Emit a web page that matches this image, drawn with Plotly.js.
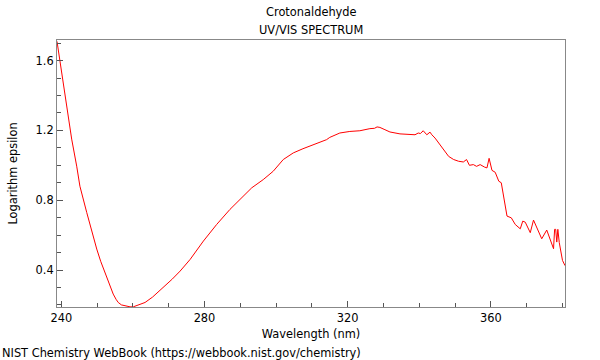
<!DOCTYPE html>
<html>
<head>
<meta charset="utf-8">
<script src="https://cdn.plot.ly/plotly-3.0.1.min.js"></script>
<style>html,body{margin:0;padding:0;background:#fff;}#chart{width:600px;height:360px;}</style>
</head>
<body>
<div id="chart"></div>
<script>
const wavelength = [238.8,240.1,241.5,242.9,244.3,245.2,247.1,248.5,249.9,251.0,252.2,253.4,254.5,255.3,255.9,256.8,257.8,259.2,260.1,261.5,263.4,265.5,268.5,271.0,273.2,276.0,279.7,283.4,287.1,289.9,293.2,296.4,299.2,302.0,304.8,307.5,310.4,314.1,315.0,317.8,320.6,323.4,326.2,327.5,328.2,329.0,330.4,331.8,334.6,336.5,338.8,339.7,340.3,341.1,341.6,342.1,343.0,343.5,344.4,345.8,346.8,348.2,349.6,351.0,352.3,353.2,354.0,355.1,356.0,357.0,358.2,358.9,359.5,360.3,361.2,362.2,362.9,363.6,364.5,365.7,366.8,368.2,368.9,369.6,371.0,371.9,372.8,374.2,375.6,376.5,377.5,377.8,378.1,378.4,378.7,379.1,380.0,380.7];
const logEpsilon = [1.71,1.53,1.34,1.15,0.995,0.88,0.73,0.62,0.52,0.45,0.385,0.32,0.262,0.232,0.214,0.2,0.194,0.189,0.189,0.198,0.214,0.245,0.299,0.348,0.394,0.461,0.566,0.661,0.747,0.804,0.871,0.918,0.966,1.033,1.071,1.095,1.118,1.147,1.16,1.185,1.194,1.198,1.21,1.212,1.22,1.217,1.204,1.191,1.18,1.177,1.175,1.185,1.182,1.198,1.185,1.175,1.19,1.175,1.156,1.118,1.09,1.051,1.033,1.023,1.019,1.033,1.0,1.004,0.994,1.004,0.99,0.985,1.04,0.971,0.96,0.909,0.9,0.804,0.709,0.699,0.661,0.636,0.68,0.674,0.614,0.686,0.648,0.579,0.629,0.575,0.522,0.633,0.633,0.56,0.633,0.557,0.455,0.425];
const titleLines = ["Crotonaldehyde", "UV/VIS SPECTRUM"];
const xTickVals = [240, 280, 320, 360];
const yTickVals = [0.4, 0.8, 1.2, 1.6];
const xTitle = "Wavelength (nm)";
const yTitle = "Logarithm epsilon";
const footnote = "NIST Chemistry WebBook (https://webbook.nist.gov/chemistry)";

const font = {family: "DejaVu Sans, sans-serif", size: 11.4, color: "#000"};

const trace = {
  x: wavelength, y: logEpsilon, type: "scatter", mode: "lines",
  line: {color: "#ff0000", width: 1}, hoverinfo: "skip"
};

const axisCommon = {
  showgrid: false, zeroline: false, showline: true, mirror: true,
  linecolor: "#888", linewidth: 1, ticks: "inside", tickcolor: "#555",
  ticklen: 6, tickwidth: 1, tickfont: font
};

const layout = {
  width: 600, height: 360,
  margin: {l: 57, r: 35, t: 40, b: 53, pad: 0},
  paper_bgcolor: "#fff", plot_bgcolor: "#fff",
  showlegend: false,
  font: font,
  xaxis: Object.assign({}, axisCommon, {
    range: [238.8, 380.7], tickvals: xTickVals, ticktext: xTickVals.map(String),
    minor: {dtick: 10, tick0: 240, ticks: "inside", ticklen: 4, tickcolor: "#555", tickwidth: 1},
    title: {text: xTitle, font: font, standoff: 6}
  }),
  yaxis: Object.assign({}, axisCommon, {
    range: [0.188, 1.718], tickvals: yTickVals, ticktext: yTickVals.map(v => v.toFixed(1)),
    minor: {dtick: 0.1, tick0: 0, ticks: "inside", ticklen: 4, tickcolor: "#555", tickwidth: 1},
    title: {text: yTitle, font: font, standoff: 15}
  }),
  annotations: [
    {text: titleLines[0], xref: "paper", yref: "paper", x: 0.5, y: 1, yshift: 28, xanchor: "center", yanchor: "middle", showarrow: false, font: font},
    {text: titleLines[1], xref: "paper", yref: "paper", x: 0.5, y: 1, yshift: 10, xanchor: "center", yanchor: "middle", showarrow: false, font: font},
    {text: footnote, xref: "paper", yref: "paper", x: 0, xshift: -57, y: 0, yshift: -46, xanchor: "left", yanchor: "middle", showarrow: false, font: font}
  ]
};

Plotly.newPlot("chart", [trace], layout, {staticPlot: true, displayModeBar: false});
</script>
</body>
</html>
